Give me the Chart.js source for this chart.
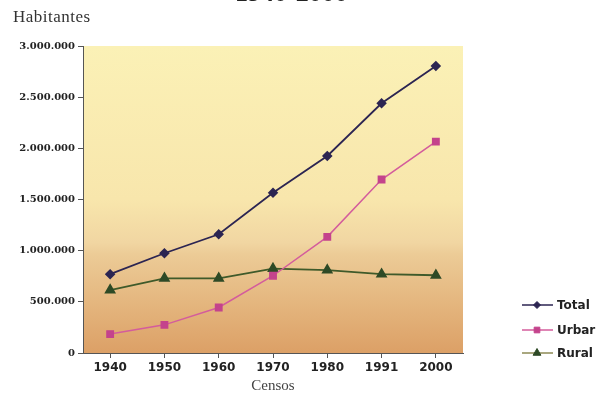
<!DOCTYPE html>
<html>
<head>
<meta charset="utf-8">
<script src="https://cdn.jsdelivr.net/npm/chart.js@4"></script>
<style>
    body { margin: 0; background: #fff; }
    #wrap { position: relative; width: 602px; height: 395px; overflow: hidden; background: #fff; }
    #titulo { position: absolute; left: 235px; top: -20px; font: bold 26px "Liberation Serif", serif; line-height: 1; color: #222; }
    #habitantes { position: absolute; left: 13px; top: 7px; font: 17px "Liberation Serif", serif; letter-spacing: 0.5px; color: #333; }
</style>
</head>
<body>
<div id="wrap">
    <canvas id="grafico" width="602" height="395"></canvas>
    <div id="titulo">1940-2000</div>
    <div id="habitantes">Habitantes</div>
</div>
<script>
"use strict"

// Datos (censos)
const censos = ["1940", "1950", "1960", "1970", "1980", "1991", "2000"];
const total = [770000, 975000, 1160000, 1565000, 1925000, 2440000, 2805000];
const urbana = [185000, 275000, 445000, 755000, 1135000, 1695000, 2065000];
const rural = [615000, 730000, 730000, 825000, 810000, 770000, 760000];
const nombres = ["Total", "Urbar", "Rural"];

/**
 * Formatea un número con puntos como separador de miles
 */
function conPuntos(v) {
    return String(v).replace(/\B(?=(\d{3})+(?!\d))/g, ".");
}

// Fondo degradado amarillo -> ocre dentro del área del gráfico
const fondo = {
    id: "fondo",
    beforeDraw(chart) {
        const { ctx, chartArea: a } = chart;
        const g = ctx.createLinearGradient(0, a.top, 0, a.bottom);
        g.addColorStop(0, "#fbf1b6");
        g.addColorStop(0.5, "#f8e6ac");
        g.addColorStop(0.64, "#f1d6a2");
        g.addColorStop(0.68, "#eccb96");
        g.addColorStop(1, "#dca066");
        ctx.save();
        ctx.fillStyle = g;
        ctx.fillRect(a.left, a.top, a.right - a.left, a.bottom - a.top);
        ctx.restore();
    }
};

// Leyenda propia: línea con marcador, como en el original
const leyenda = {
    id: "leyenda",
    afterDraw(chart) {
        const ctx = chart.ctx;
        const filas = [305, 330, 353];
        ctx.save();
        chart.data.datasets.forEach((ds, i) => {
            const y = filas[i];
            ctx.strokeStyle = ds.legendLine || ds.borderColor;
            ctx.lineWidth = 1.5;
            ctx.beginPath();
            ctx.moveTo(522, y);
            ctx.lineTo(553, y);
            ctx.stroke();
            ctx.fillStyle = ds.pointBackgroundColor;
            ctx.strokeStyle = ds.pointBorderColor;
            ctx.lineWidth = 1;
            Chart.helpers.drawPoint(ctx, {
                pointStyle: ds.pointStyle,
                radius: ds.pointRadius - 0.5,
                borderWidth: 1
            }, 537, y);
            ctx.fillStyle = "#222";
            ctx.font = "bold 12px 'DejaVu Sans'";
            ctx.textBaseline = "middle";
            ctx.fillText(ds.label, 557, y + 1);
        });
        ctx.restore();
    }
};

const ctx = document.getElementById("grafico").getContext("2d");

new Chart(ctx, {
    type: "line",
    data: {
        labels: censos,
        datasets: [
            {
                label: nombres[0],
                data: total,
                borderColor: "#2c2552",
                backgroundColor: "#2c2552",
                pointBackgroundColor: "#2c2552",
                pointBorderColor: "#2c2552",
                pointStyle: "rectRot",
                pointRadius: 4,
                borderWidth: 1.8
            },
            {
                label: nombres[1],
                data: urbana,
                borderColor: "#d45c9c",
                backgroundColor: "#c4438c",
                pointBackgroundColor: "#c4438c",
                pointBorderColor: "#c4438c",
                pointStyle: "rect",
                pointRadius: 4.5,
                borderWidth: 1.5
            },
            {
                label: nombres[2],
                data: rural,
                borderColor: "#3f5a2a",
                legendLine: "#8c8a55",
                backgroundColor: "#2e4a26",
                pointBackgroundColor: "#2e4a26",
                pointBorderColor: "#2e4a26",
                pointStyle: "triangle",
                pointRadius: 5,
                borderWidth: 1.8
            }
        ]
    },
    options: {
        responsive: false,
        animation: false,
        layout: { padding: { top: 46, right: 139, left: 0, bottom: 0 } },
        plugins: {
            legend: { display: false },
            tooltip: { enabled: false }
        },
        scales: {
            x: {
                offset: true,
                afterFit: (s) => { s.height = 42; },
                grid: { drawOnChartArea: false, tickLength: 5, color: "#555" },
                border: { color: "#555", width: 1 },
                ticks: {
                    color: "#222",
                    padding: 3,
                    font: { family: "DejaVu Sans", size: 12, weight: "bold" }
                },
                title: {
                    display: true,
                    text: "Censos",
                    color: "#444",
                    padding: { top: 0, bottom: 0 },
                    font: { family: "Liberation Serif", size: 15 }
                }
            },
            y: {
                min: 0,
                max: 3000000,
                afterFit: (s) => { s.width = 83; },
                grid: { drawOnChartArea: false, tickLength: 5, color: "#555" },
                border: { color: "#555", width: 1 },
                ticks: {
                    stepSize: 500000,
                    color: "#222",
                    padding: 3,
                    font: { family: "DejaVu Serif", size: 10, weight: "bold" },
                    callback: (v) => conPuntos(v)
                }
            }
        }
    },
    plugins: [fondo, leyenda]
});
</script>
</body>
</html>
